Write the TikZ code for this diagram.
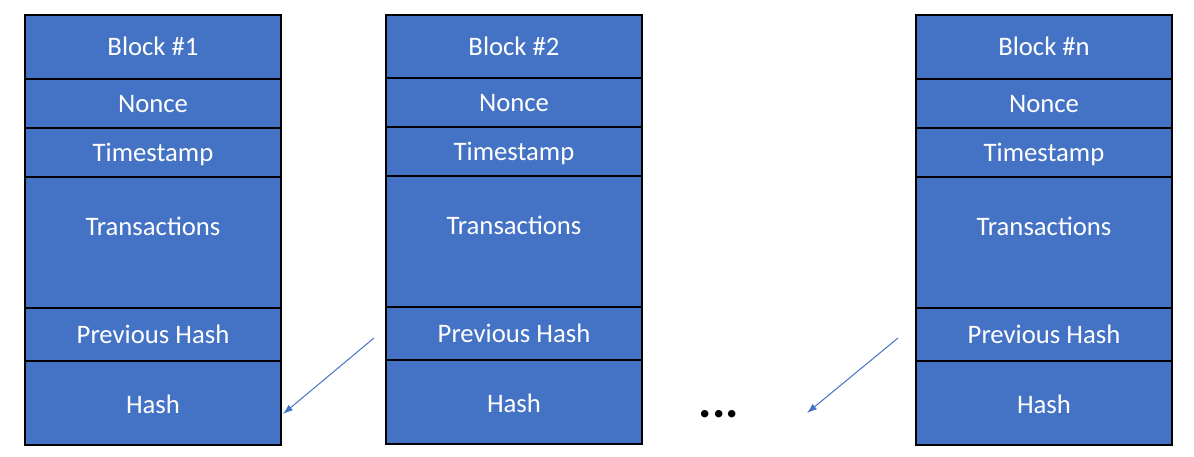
\documentclass[tikz,border=0pt]{standalone}
\usepackage{fontspec}
\setmainfont{Carlito}
\usetikzlibrary{arrows.meta}
\definecolor{blk}{HTML}{4472C4}
\tikzset{
  cell/.style={draw=black, line width=2pt, fill=blk, text=white, minimum width=256pt,
    inner sep=0pt, anchor=north, font=\fontsize{26.7}{30}\selectfont,
    text height=20pt, text depth=2.6pt},
  celltext/.style={text=white, inner sep=0pt, font=\fontsize{26.7}{30}\selectfont,
    text height=20pt, text depth=2.6pt},
  link/.style={draw=blk, line width=1pt, -{Latex[length=10pt,width=7pt]}}
}
\begin{document}
\begin{tikzpicture}[x=1pt,y=-1pt]
\useasboundingbox (0,0) rectangle (1194,456);
% Block 1
\node[cell, minimum height=64pt] (b1) at (153,14) {Block \#1};
\node[cell, minimum height=49pt] (n1) at (153,78) {Nonce};
\node[cell, minimum height=49pt] (t1) at (153,127) {Timestamp};
\node[cell, minimum height=131pt] (x1) at (153,176) {};
\node[celltext] (xt1) at ([yshift=-51pt]x1.north) {Transactions};
\node[cell, minimum height=53pt] (p1) at (153,307) {Previous Hash};
\node[cell, minimum height=84pt, text height=22pt, text depth=0.6pt] (h1) at (153,360) {Hash};
% Block 2
\node[cell, minimum height=63pt] (b2) at (514,14) {Block \#2};
\node[cell, minimum height=49pt] (n2) at (514,77) {Nonce};
\node[cell, minimum height=49pt] (t2) at (514,126) {Timestamp};
\node[cell, minimum height=131pt] (x2) at (514,175) {};
\node[celltext] (xt2) at ([yshift=-51pt]x2.north) {Transactions};
\node[cell, minimum height=53pt] (p2) at (514,306) {Previous Hash};
\node[cell, minimum height=84pt, text height=22pt, text depth=0.6pt] (h2) at (514,359) {Hash};
% Block n
\node[cell, minimum height=64pt] (bn) at (1044,14) {Block \#n};
\node[cell, minimum height=49pt] (nn) at (1044,78) {Nonce};
\node[cell, minimum height=49pt] (tn) at (1044,127) {Timestamp};
\node[cell, minimum height=131pt] (xn) at (1044,176) {};
\node[celltext] (xtn) at ([yshift=-51pt]xn.north) {Transactions};
\node[cell, minimum height=53pt] (pn) at (1044,307) {Previous Hash};
\node[cell, minimum height=84pt, text height=22pt, text depth=0.6pt] (hn) at (1044,360) {Hash};
% dots
\node[inner sep=0pt, anchor=base, font=\fontsize{50}{50}\bfseries\selectfont] (dots) at (719,417.5) {...};
% arrows
\coordinate (a1s) at (374,338);
\coordinate (a2s) at (898,338);
\coordinate (a2e) at (807,413);
\draw[link] (a1s) -- ([yshift=-11pt,xshift=1pt]h1.east);
\draw[link] (a2s) -- (a2e);
\end{tikzpicture}
\end{document}
